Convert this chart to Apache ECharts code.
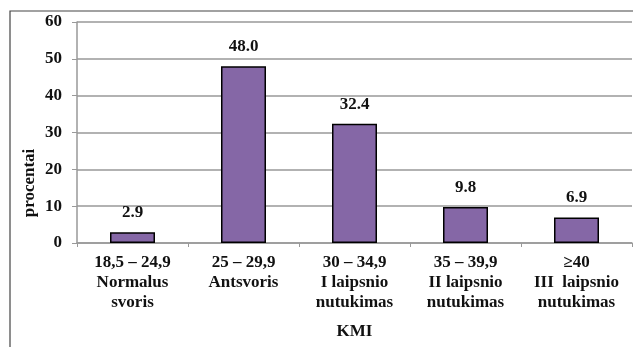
<!DOCTYPE html>
<html><head><meta charset="utf-8">
<script src="https://cdn.jsdelivr.net/npm/echarts@6/dist/echarts.min.js"></script>
<style>html,body{margin:0;padding:0;background:#fff}#c{width:633px;height:347px}</style>
</head><body><div id="c"></div>
<script>
const categories = ['18,5 – 24,9\nNormalus\nsvoris', '25 – 29,9\nAntsvoris', '30 – 34,9\nI laipsnio\nnutukimas', '35 – 39,9\nII laipsnio\nnutukimas', '≥40\nIII  laipsnio\nnutukimas'];
const values = [2.9, 48.0, 32.4, 9.8, 6.9];
const yTicks = [0, 10, 20, 30, 40, 50, 60];
const yName = 'procentai';
const xName = 'KMI';

const font = 'Liberation Serif';
const chart = echarts.init(document.getElementById('c'), null, {renderer: 'canvas'});
chart.setOption({
  animation: false,
  grid: {left: 77, right: 1, top: 22, bottom: 104, containLabel: false},
  graphic: [
    {type: 'polyline', shape: {points: [[10, 347], [10, 11], [633, 11]]}, style: {stroke: '#444', lineWidth: 1.2, fill: null}},
    {type: 'text', x: 30, y: 183, rotation: Math.PI / 2,
      style: {text: yName, fontFamily: font, fontWeight: 'bold', fontSize: 17, fill: '#111', align: 'center', verticalAlign: 'middle'}}
  ],
  xAxis: {
    type: 'category', data: categories,
    name: xName, nameLocation: 'middle', nameGap: 80,
    nameTextStyle: {fontFamily: font, fontWeight: 'bold', fontSize: 17, color: '#111'},
    axisLine: {lineStyle: {color: '#999', width: 1.5}},
    axisTick: {show: true, length: 4, lineStyle: {color: '#999'}},
    axisLabel: {fontFamily: font, fontWeight: 'bold', fontSize: 17, color: '#111', lineHeight: 20, margin: 10, interval: 0}
  },
  yAxis: {
    type: 'value', min: yTicks[0], max: yTicks[yTicks.length - 1], interval: 10,
    axisLine: {show: true, lineStyle: {color: '#999', width: 1.5}},
    axisTick: {show: true, length: 5, lineStyle: {color: '#999'}},
    splitLine: {lineStyle: {color: '#999', width: 1.5}},
    axisLabel: {fontFamily: font, fontWeight: 'bold', fontSize: 17, color: '#111', margin: 15}
  },
  series: [{
    type: 'bar', data: values, barWidth: 45,
    itemStyle: {color: '#8567A6', borderColor: '#000', borderWidth: 1.5},
    label: {show: true, position: 'top', distance: 11, formatter: p => p.value.toFixed(1),
      fontFamily: font, fontWeight: 'bold', fontSize: 17, color: '#111'}
  }]
});
</script></body></html>
